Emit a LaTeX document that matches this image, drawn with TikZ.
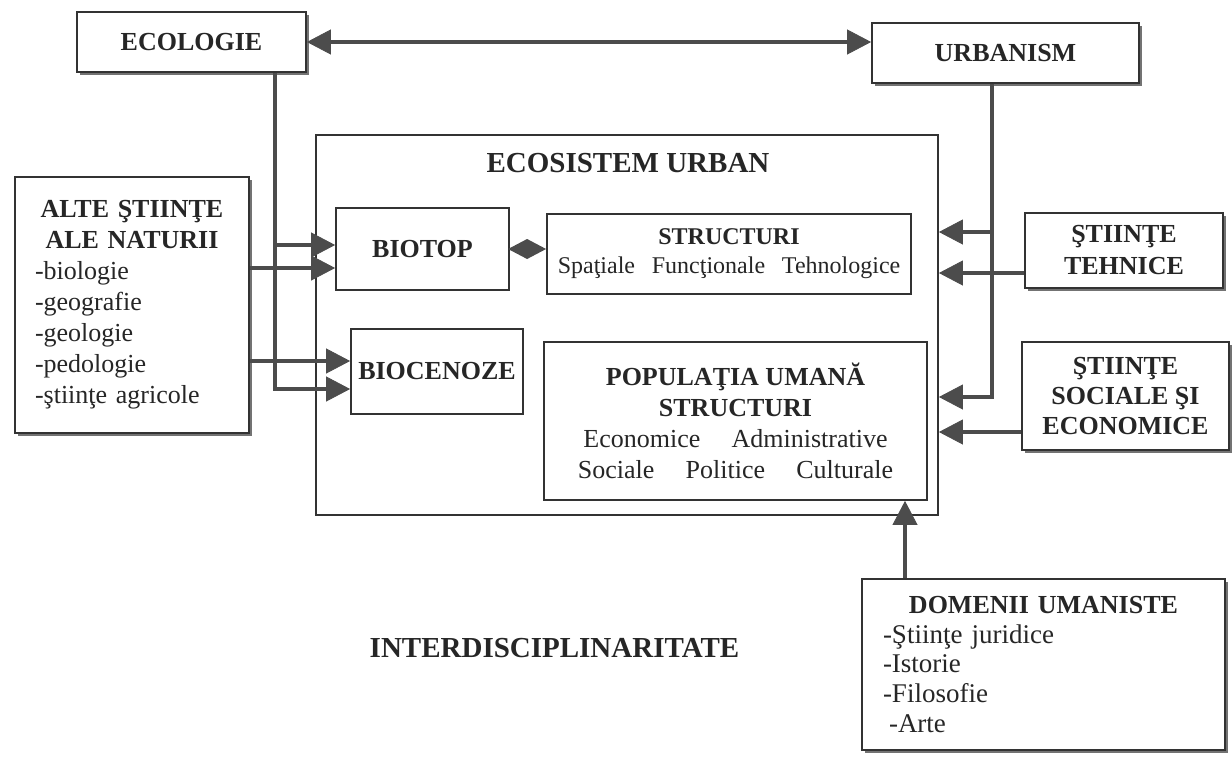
\documentclass[tikz,border=0pt]{standalone}
\usepackage{fontspec}
\setmainfont{Liberation Serif}
\usepackage{tikz}
\usetikzlibrary{arrows.meta,shadows}
\tikzset{
    box/.style={draw=black!80,line width=0.9pt,fill=white,inner sep=0pt,text=black!85},
    shadowbox/.style={box,drop shadow={shadow xshift=1.6pt,shadow yshift=-1.6pt,fill=black!55,opacity=1}},
    head/.style={font=\fontsize{13}{16}\selectfont\bfseries},
    bighead/.style={font=\fontsize{14.5}{17}\selectfont\bfseries,text=black!85},
    plain/.style={font=\fontsize{13}{15.5}\selectfont},
    bus/.style={draw=black!70,line width=1.8pt},
    link/.style={bus,-{Triangle[length=12pt,width=12.5pt,line width=0.4pt]}},
    duallink/.style={bus,{Triangle[length=12pt,width=12.5pt,line width=0.4pt]}-{Triangle[length=12pt,width=12.5pt,line width=0.4pt]}},
    joint/.style={draw=black!70,line width=0.8pt,-{Diamond[length=19pt,width=10pt]}}
}
\newcommand{\wordgap}{\hspace{1.2em}}

\begin{document}
\begin{tikzpicture}[x=0.5pt,y=-0.5pt]
\useasboundingbox (0,0) rectangle (1232,756);

% disciplines around the system
\node[shadowbox,head,minimum width=114.5pt,minimum height=30pt] (eco) at (191.5,42) {ECOLOGIE};
\node[shadowbox,head,minimum width=133.5pt,minimum height=30pt] (urb) at (1005.5,53) {URBANISM};
\node[shadowbox,plain,minimum height=128pt,inner xsep=10pt,text width=97pt,align=left] (alte) at (132,305)
    {{\centering\bfseries ALTE ŞTIINŢE\\ALE NATURII\par}-biologie\\-geografie\\-geologie\\-pedologie\\-ştiinţe agricole};
\node[shadowbox,head,minimum width=99pt,minimum height=37.5pt,align=center] (tehn) at (1124,250.5) {ŞTIINŢE\\TEHNICE};
\node[shadowbox,head,font=\fontsize{13}{15}\selectfont\bfseries,minimum width=103.5pt,minimum height=54pt,align=center] (soc) at (1125.5,396)
    {ŞTIINŢE\\SOCIALE ŞI\\ECONOMICE};
\node[shadowbox,font=\fontsize{13.5}{14.8}\selectfont,minimum height=85.5pt,inner xsep=10.5pt,text width=160.5pt,align=left] (dom) at (1043.5,664.5)
    {{\centering\bfseries\fontsize{13}{14.8}\selectfont DOMENII UMANISTE\par}-Ştiinţe juridice\\-Istorie\\-Filosofie\\\hspace*{3pt}-Arte};

% the urban ecosystem
\node[box,minimum width=311pt,minimum height=190pt] (sys) at (627,325) {};
\node[bighead] (systitle) at (628,163) {ECOSISTEM URBAN};
\node[box,head,minimum width=86.5pt,minimum height=41pt] (biotop) at (422.5,249) {BIOTOP};
\node[box,font=\fontsize{12}{14.5}\selectfont,minimum width=182pt,minimum height=40pt,align=center] (struct) at (729,254)
    {\textbf{STRUCTURI}\\Spaţiale\hspace{0.7em}Funcţionale\hspace{0.7em}Tehnologice};
\node[box,head,minimum width=86pt,minimum height=42.5pt] (bioc) at (437,371.5) {BIOCENOZE};
\node[box,plain,minimum width=191.5pt,minimum height=79pt,align=center] (pop) at (735.5,421)
    {\textbf{POPULAŢIA UMANĂ}\\\textbf{STRUCTURI}\\Economice\wordgap Administrative\\Sociale\wordgap Politice\wordgap Culturale};

\node[bighead] (inter) at (554.5,648) {INTERDISCIPLINARITATE};

% bus lines and arrow rows
\coordinate (lbus) at (275,0);
\coordinate (rbus) at (992,0);
\coordinate (ubus) at (905,0);
\coordinate (rowA) at ([yshift=2pt]biotop.west);
\coordinate (rowB) at ([yshift=-9.5pt]biotop.west);
\coordinate (rowC) at ([yshift=5.25pt]bioc.west);
\coordinate (rowD) at ([yshift=-8.75pt]bioc.west);
\coordinate (rowE) at ([yshift=46.5pt]sys.east);
\coordinate (rowF) at ([yshift=26pt]sys.east);
\coordinate (rowG) at ([yshift=-36pt]sys.east);
\coordinate (rowH) at ([yshift=-53.5pt]sys.east);

\draw[duallink] (eco.east) -- (eco.east -| urb.west);

\draw[link] (eco.south -| lbus) |- (rowD);
\draw[link] (rowA -| lbus) -- (rowA);
\draw[link] (alte.east |- rowB) -- (rowB);
\draw[link] (alte.east |- rowC) -- (rowC);

\draw[link] (urb.south -| rbus) |- (rowG);
\draw[link] (rowE -| rbus) -- (rowE);
\draw[link] (tehn.west |- rowF) -- (rowF);
\draw[link] (soc.west |- rowH) -- (rowH);

\draw[link] (dom.north -| ubus) -- (pop.south -| ubus);

\draw[joint] (biotop.east) -- (biotop.east -| struct.west);
\end{tikzpicture}
\end{document}
